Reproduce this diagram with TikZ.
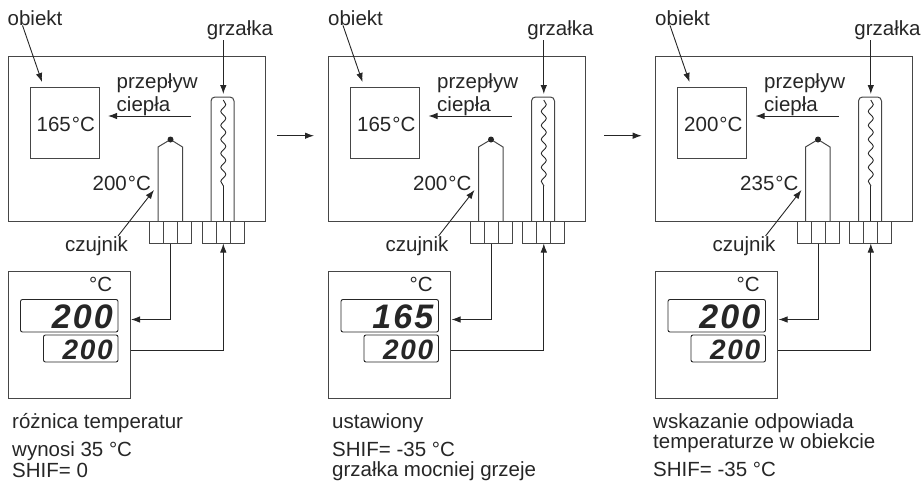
\documentclass[tikz,border=0pt]{standalone}
\usepackage{fontspec}
\setmainfont{Liberation Sans}
\newfontfamily\dispfont[LetterSpace=6]{Liberation Sans}
\usetikzlibrary{arrows.meta,decorations.pathmorphing}
\definecolor{myline}{RGB}{70,70,70}
\tikzset{
  txt/.style={inner sep=0pt, anchor=base west, font=\fontsize{20.5}{22}\selectfont, text=black!85},
  frame/.style={draw=myline, line width=1pt, inner sep=0pt},
  cell/.style={frame, minimum width=14pt, minimum height=22pt},
  dispbox/.style={draw=black!85, line width=0.9pt, rounded corners=2pt, inner sep=0pt},
  digitsbig/.style={inner sep=0pt, anchor=base east, font=\fontsize{34}{36}\dispfont\bfseries\itshape, text=black!85},
  digitssmall/.style={inner sep=0pt, anchor=base east, font=\fontsize{28}{30}\dispfont\bfseries\itshape, text=black!85},
  sig/.style={draw=black!85, line width=0.9pt, -{Latex[length=9pt,width=6.5pt]}},
  plain/.style={draw=black!85, line width=0.9pt},
  coil/.style={plain, decorate, decoration={snake, amplitude=2.5pt, segment length=14pt}}
}
\begin{document}
\begin{tikzpicture}[x=1pt,y=-1pt]
  \useasboundingbox (0,0) rectangle (922,480);

  % Panel 1
  \begin{scope}
    \node[frame, minimum width=257pt, minimum height=165pt] (plant1) at (136.5,138.5) {};
    \node[frame, minimum width=69pt, minimum height=71pt] (obj1) at (64.5,123) {};
    \node[txt] (tobj1) at (36.5,131) {165\kern1pt°C};
    \node[txt] (lobj1) at (7.5,25) {obiekt};
    \node[txt] (lheat1) at (206.75,35.7) {grzałka};
    \node[txt] (lflowa1) at (116.5,88) {przepływ};
    \node[txt] (lflowb1) at (116.5,111) {ciepła};
    \node[txt] (tprobe1) at (92.5,190) {200\kern1pt°C};
    \node[txt] (lprobe1) at (65,251) {czujnik};
    % Heater and probe
    \draw[frame, rounded corners=4pt] (211,221) |- (234,97) -- (234,221);
    \draw[coil] (223.3,100) -- (223.3,186);
    \draw[plain] (223.3,186) -- (223.3,221);
    \draw[frame] (158,221) -- (158,147) -- (170.5,139.5) -- (182.5,147) -- (182.5,221);
    \fill[black!85] (170.5,139.5) circle (3pt);
    \node[cell] (pca1) at (156.5,232) {};
    \node[cell] (pcb1) at (170.5,232) {};
    \node[cell] (pcc1) at (184.5,232) {};
    \node[cell] (hca1) at (209.3,232) {};
    \node[cell] (hcb1) at (223.3,232) {};
    \node[cell] (hcc1) at (237.3,232) {};
    % Controller
    \node[frame, minimum width=122pt, minimum height=127pt] (ctrl1) at (69,334.5) {};
    \node[txt] (unit1) at (89,291.5) {°C};
    \node[dispbox, minimum width=97.5pt, minimum height=32.5pt] (dup1) at (69.25,315.75) {};
    \node[dispbox, minimum width=74.5pt, minimum height=27pt] (ddn1) at (80.75,348.5) {};
    \node[digitsbig] (vup1) at (113,328) {200};
    \node[digitssmall] (vdn1) at (113,359) {200};
    % Arrows
    \coordinate (obj1tip) at (42,82);
    \coordinate (flow1from) at (191,116);
    \coordinate (flow1tip) at (108,116);
    \coordinate (probe1tip) at (154,190);
    \coordinate (ctrl1in) at (131,319.5);
    \coordinate (ctrl1out) at (130.5,350);
    \draw[sig] ([xshift=15pt]lobj1.south west) -- (obj1tip);
    \draw[sig] (hcb1.center |- lheat1.south) -- (223.3,94);
    \draw[sig] (flow1from) -- (flow1tip);
    \draw[sig] ([xshift=-10pt]lprobe1.north east) -- (probe1tip);
    \draw[sig] (pcb1.south) |- (ctrl1in);
    \draw[sig] (ctrl1out) -| (hcb1.south);
    % Notes
    \node[txt] (na1) at (12,428) {różnica temperatur};
    \node[txt] (nb1) at (12,456) {wynosi 35 °C};
    \node[txt] (nc1) at (12,477) {SHIF= 0};
  \end{scope}

  % Panel 2
  \begin{scope}[xshift=320.5pt]
    \node[frame, minimum width=257pt, minimum height=165pt] (plant2) at (136.5,138.5) {};
    \node[frame, minimum width=69pt, minimum height=71pt] (obj2) at (64.5,123) {};
    \node[txt] (tobj2) at (36.5,131) {165\kern1pt°C};
    \node[txt] (lobj2) at (7.5,25) {obiekt};
    \node[txt] (lheat2) at (206.75,35.7) {grzałka};
    \node[txt] (lflowa2) at (116.5,88) {przepływ};
    \node[txt] (lflowb2) at (116.5,111) {ciepła};
    \node[txt] (tprobe2) at (92.5,190) {200\kern1pt°C};
    \node[txt] (lprobe2) at (65,251) {czujnik};
    % Heater and probe
    \draw[frame, rounded corners=4pt] (211,221) |- (234,97) -- (234,221);
    \draw[coil] (223.3,100) -- (223.3,186);
    \draw[plain] (223.3,186) -- (223.3,221);
    \draw[frame] (158,221) -- (158,147) -- (170.5,139.5) -- (182.5,147) -- (182.5,221);
    \fill[black!85] (170.5,139.5) circle (3pt);
    \node[cell] (pca2) at (156.5,232) {};
    \node[cell] (pcb2) at (170.5,232) {};
    \node[cell] (pcc2) at (184.5,232) {};
    \node[cell] (hca2) at (209.3,232) {};
    \node[cell] (hcb2) at (223.3,232) {};
    \node[cell] (hcc2) at (237.3,232) {};
    % Controller
    \node[frame, minimum width=122pt, minimum height=127pt] (ctrl2) at (69,334.5) {};
    \node[txt] (unit2) at (89,291.5) {°C};
    \node[dispbox, minimum width=97.5pt, minimum height=32.5pt] (dup2) at (69.25,315.75) {};
    \node[dispbox, minimum width=74.5pt, minimum height=27pt] (ddn2) at (80.75,348.5) {};
    \node[digitsbig] (vup2) at (113,328) {165};
    \node[digitssmall] (vdn2) at (113,359) {200};
    % Arrows
    \coordinate (obj2tip) at (42,82);
    \coordinate (flow2from) at (191,116);
    \coordinate (flow2tip) at (108,116);
    \coordinate (probe2tip) at (154,190);
    \coordinate (ctrl2in) at (131,319.5);
    \coordinate (ctrl2out) at (130.5,350);
    \draw[sig] ([xshift=15pt]lobj2.south west) -- (obj2tip);
    \draw[sig] (hcb2.center |- lheat2.south) -- (223.3,94);
    \draw[sig] (flow2from) -- (flow2tip);
    \draw[sig] ([xshift=-10pt]lprobe2.north east) -- (probe2tip);
    \draw[sig] (pcb2.south) |- (ctrl2in);
    \draw[sig] (ctrl2out) -| (hcb2.south);
    % Notes
    \node[txt] (na2) at (11.5,428) {ustawiony};
    \node[txt] (nb2) at (11.5,456) {SHIF= -35 °C};
    \node[txt] (nc2) at (11.5,476.7) {grzałka mocniej grzeje};
  \end{scope}

  % Panel 3
  \begin{scope}[xshift=647.5pt]
    \node[frame, minimum width=257pt, minimum height=165pt] (plant3) at (136.5,138.5) {};
    \node[frame, minimum width=69pt, minimum height=71pt] (obj3) at (64.5,123) {};
    \node[txt] (tobj3) at (36.5,131) {200\kern1pt°C};
    \node[txt] (lobj3) at (7.5,25) {obiekt};
    \node[txt] (lheat3) at (206.75,35.7) {grzałka};
    \node[txt] (lflowa3) at (116.5,88) {przepływ};
    \node[txt] (lflowb3) at (116.5,111) {ciepła};
    \node[txt] (tprobe3) at (92.5,190) {235\kern1pt°C};
    \node[txt] (lprobe3) at (65,251) {czujnik};
    % Heater and probe
    \draw[frame, rounded corners=4pt] (211,221) |- (234,97) -- (234,221);
    \draw[coil] (223.3,100) -- (223.3,186);
    \draw[plain] (223.3,186) -- (223.3,221);
    \draw[frame] (158,221) -- (158,147) -- (170.5,139.5) -- (182.5,147) -- (182.5,221);
    \fill[black!85] (170.5,139.5) circle (3pt);
    \node[cell] (pca3) at (156.5,232) {};
    \node[cell] (pcb3) at (170.5,232) {};
    \node[cell] (pcc3) at (184.5,232) {};
    \node[cell] (hca3) at (209.3,232) {};
    \node[cell] (hcb3) at (223.3,232) {};
    \node[cell] (hcc3) at (237.3,232) {};
    % Controller
    \node[frame, minimum width=122pt, minimum height=127pt] (ctrl3) at (69,334.5) {};
    \node[txt] (unit3) at (89,291.5) {°C};
    \node[dispbox, minimum width=97.5pt, minimum height=32.5pt] (dup3) at (69.25,315.75) {};
    \node[dispbox, minimum width=74.5pt, minimum height=27pt] (ddn3) at (80.75,348.5) {};
    \node[digitsbig] (vup3) at (113,328) {200};
    \node[digitssmall] (vdn3) at (113,359) {200};
    % Arrows
    \coordinate (obj3tip) at (42,82);
    \coordinate (flow3from) at (191,116);
    \coordinate (flow3tip) at (108,116);
    \coordinate (probe3tip) at (154,190);
    \coordinate (ctrl3in) at (131,319.5);
    \coordinate (ctrl3out) at (130.5,350);
    \draw[sig] ([xshift=15pt]lobj3.south west) -- (obj3tip);
    \draw[sig] (hcb3.center |- lheat3.south) -- (223.3,94);
    \draw[sig] (flow3from) -- (flow3tip);
    \draw[sig] ([xshift=-10pt]lprobe3.north east) -- (probe3tip);
    \draw[sig] (pcb3.south) |- (ctrl3in);
    \draw[sig] (ctrl3out) -| (hcb3.south);
    % Notes
    \node[txt] (na3) at (5.5,428) {wskazanie odpowiada};
    \node[txt] (nb3) at (5.5,448) {temperaturze w obiekcie};
    \node[txt] (nc3) at (5.5,476) {SHIF= -35 °C};
  \end{scope}

  % Between panels
  \coordinate (stepa) at (277,135.7);
  \coordinate (stepb) at (314,135.7);
  \coordinate (stepc) at (604,135.7);
  \coordinate (stepd) at (641.7,135.7);
  \draw[sig] (stepa) -- (stepb);
  \draw[sig] (stepc) -- (stepd);
\end{tikzpicture}
\end{document}
